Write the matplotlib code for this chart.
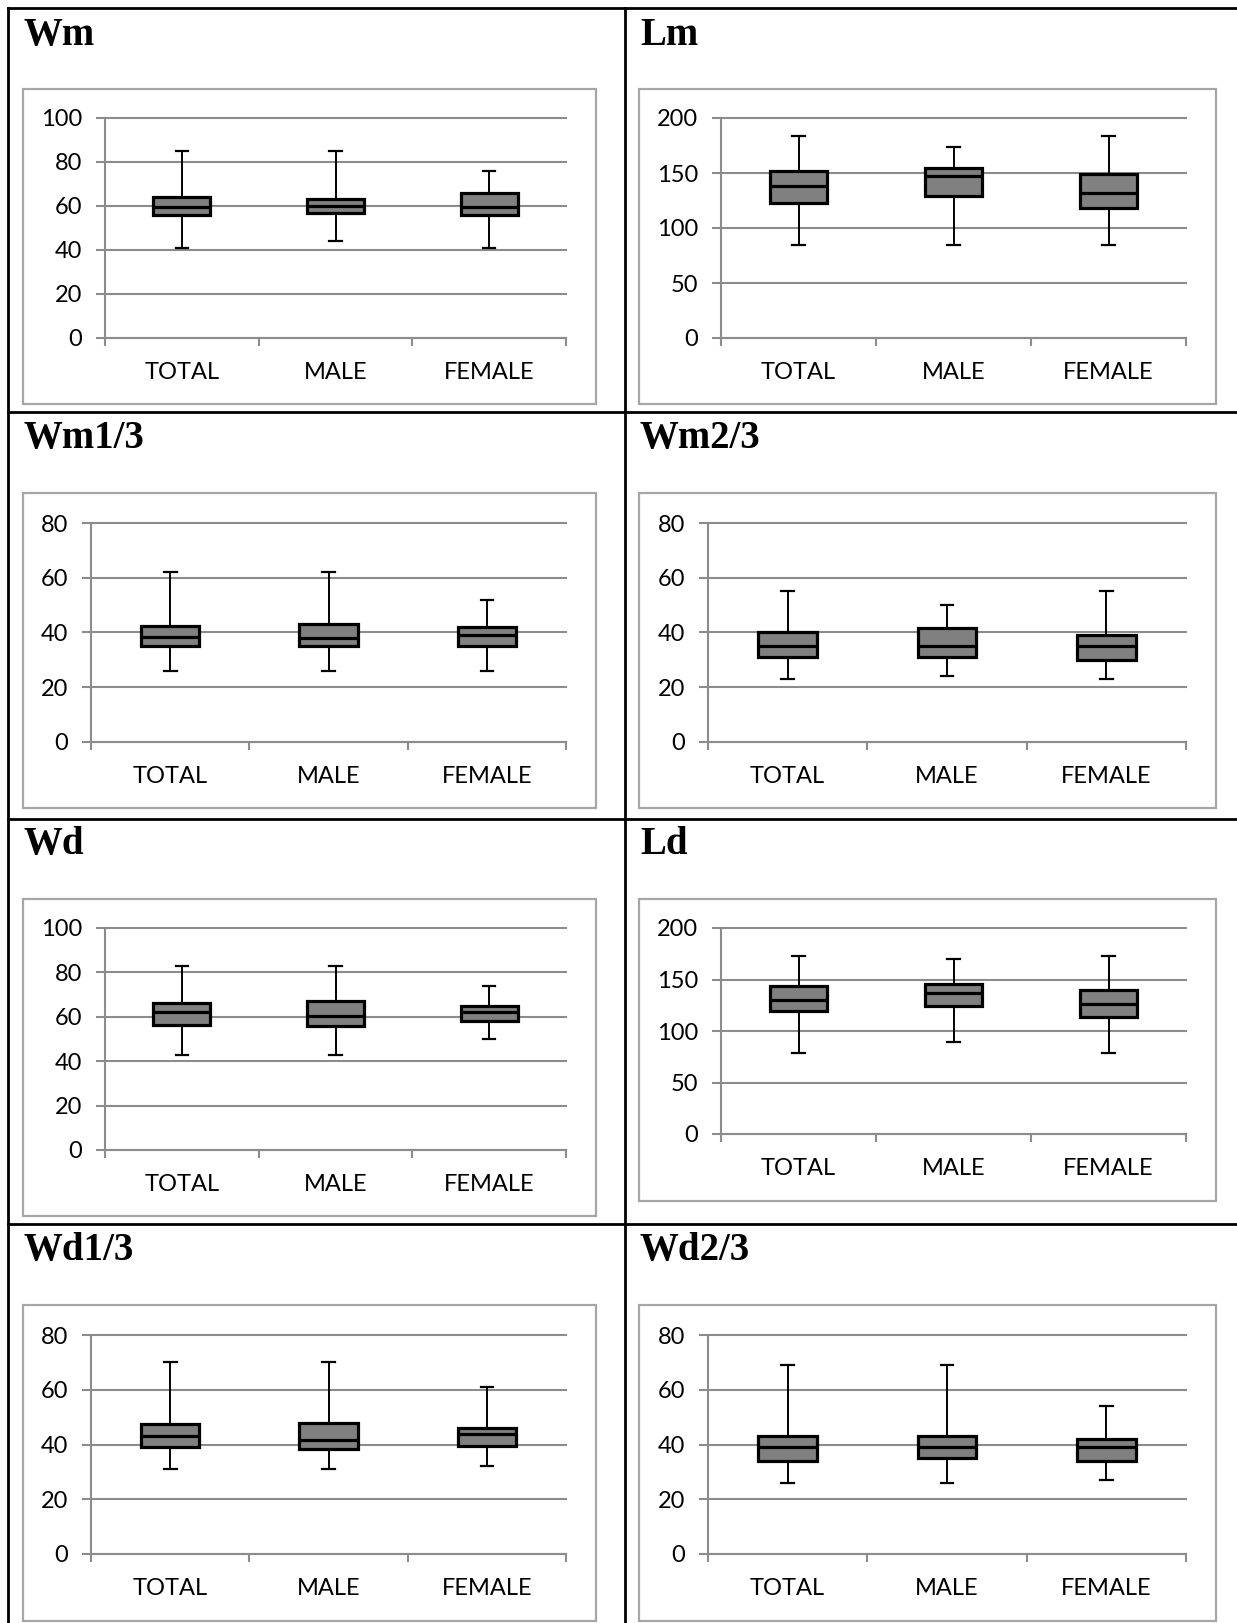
import matplotlib.pyplot as plt
from matplotlib.patches import Rectangle
from matplotlib.lines import Line2D

W, H = 1237, 1623
groups = ['TOTAL', 'MALE', 'FEMALE']

# rows: lower whisker, Q1, median, Q3, upper whisker; columns follow groups
wm = [[41, 44, 41], [56, 57, 56], [59.5, 60, 59.5], [64, 63, 66], [85, 85, 76]]
lm = [[85, 85, 85], [123, 129, 118.5], [138, 147, 131.5], [152, 155, 149.5], [184, 174, 184]]
wm13 = [[26, 26, 26], [35, 35, 35], [38.5, 38, 39], [42.5, 43, 42], [62, 62, 52]]
wm23 = [[23, 24, 23], [31, 31, 30], [35, 35, 35], [40, 41.5, 39], [55, 50, 55]]
wd = [[43, 43, 50], [56.5, 56, 58], [62, 60.5, 62], [66, 67, 65], [83, 83, 74]]
ld = [[79, 89, 79], [119, 124, 114], [130, 137, 126], [144, 146, 140], [173, 170, 173]]
wd13 = [[31, 31, 32], [39, 38.5, 39.5], [43, 41.5, 44], [47.5, 48, 46], [70, 70, 61]]
wd23 = [[26, 26, 27], [34, 35, 34], [39, 39, 39], [43, 43, 42], [69, 69, 54]]

GRID = '#8c8c8c'
FRAME = '#a6a6a6'

fig = plt.figure(figsize=(W / 100, H / 100), dpi=100)
fig.patch.set_facecolor('white')


def fx(px):
    return px / W


def fy(py):
    return 1 - py / H


def panel(title, data, ymax, step, title_px, box, axpos):
    # panel heading
    fig.text(fx(title_px[0]), fy(title_px[1]), title, ha='left', va='baseline',
             fontsize=28, fontweight='bold', family='Liberation Serif')
    # light frame around the chart
    bx0, by0, bx1, by1 = box
    fig.add_artist(Rectangle((fx(bx0), fy(by1)), fx(bx1 - bx0), (by1 - by0) / H,
                             transform=fig.transFigure, fill=False,
                             edgecolor=FRAME, linewidth=1.6))
    x0, x1, yt, yb = axpos
    ax = fig.add_axes([fx(x0), fy(yb), fx(x1 - x0), (yb - yt) / H])

    stats = []
    for i, g in enumerate(groups):
        stats.append(dict(whislo=data[0][i], q1=data[1][i], med=data[2][i],
                          q3=data[3][i], whishi=data[4][i], label=g))
    ax.bxp(stats, positions=[1, 2, 3], widths=0.37, capwidths=0.08,
           showfliers=False, patch_artist=True,
           boxprops=dict(facecolor='#808080', edgecolor='black', linewidth=2.3),
           medianprops=dict(color='black', linewidth=2.3),
           whiskerprops=dict(color='black', linewidth=1.4),
           capprops=dict(color='black', linewidth=1.6))

    ax.set_xlim(0.5, 3.5)
    ax.set_ylim(0, ymax)
    ax.set_yticks(range(0, ymax + 1, step))
    ax.set_axisbelow(True)
    ax.yaxis.grid(True, color=GRID, linewidth=1.5)
    for gl in ax.get_ygridlines():
        gl.set_clip_on(False)

    for s in ['top', 'right']:
        ax.spines[s].set_visible(False)
    for s in ['left', 'bottom']:
        ax.spines[s].set_color(GRID)
        ax.spines[s].set_linewidth(1.5)

    ax.set_xticks([0.5, 1.5, 2.5, 3.5], minor=True)
    ax.tick_params(axis='x', which='major', length=0, pad=17.5, labelsize=17)
    ax.tick_params(axis='x', which='minor', length=6, width=1.5, color=GRID)
    ax.tick_params(axis='y', length=6.5, width=1.5, color=GRID, pad=10, labelsize=17)
    for lab in ax.get_xticklabels() + ax.get_yticklabels():
        lab.set_family('Lato')
    ax.patch.set_alpha(0)


panel('Wm', wm, 100, 20, (23, 45), (23, 89, 596, 404), (105, 566, 118, 338))
panel('Lm', lm, 200, 50, (640, 45), (639, 89, 1216, 404), (721, 1186, 118, 338))
panel('Wm1/3', wm13, 80, 20, (23, 448), (23, 493, 596, 808), (91, 566, 523, 742))
panel('Wm2/3', wm23, 80, 20, (640, 448), (639, 493, 1216, 808), (708, 1186, 523, 742))
panel('Wd', wd, 100, 20, (23, 854), (23, 899, 596, 1216), (105, 566, 928, 1150))
panel('Ld', ld, 200, 50, (640, 854), (639, 899, 1216, 1201), (721, 1186, 928, 1134))
panel('Wd1/3', wd13, 80, 20, (23, 1260), (23, 1305, 596, 1621), (91, 566, 1335, 1554))
panel('Wd2/3', wd23, 80, 20, (640, 1260), (639, 1305, 1216, 1621), (708, 1186, 1335, 1554))

# black table rules around the panels
rules = [((8, 8), (7.5, H)), ((8, W), (7.5, 7.5)), ((625, 625), (7.5, H)),
         ((8, W), (412, 412)), ((8, W), (819, 819)), ((8, W), (1224, 1224))]
for xs, ys in rules:
    fig.add_artist(Line2D([fx(x) for x in xs], [fy(y) for y in ys],
                          transform=fig.transFigure, color='black', linewidth=2))

fig.savefig('out.png', dpi=100, facecolor='white')
